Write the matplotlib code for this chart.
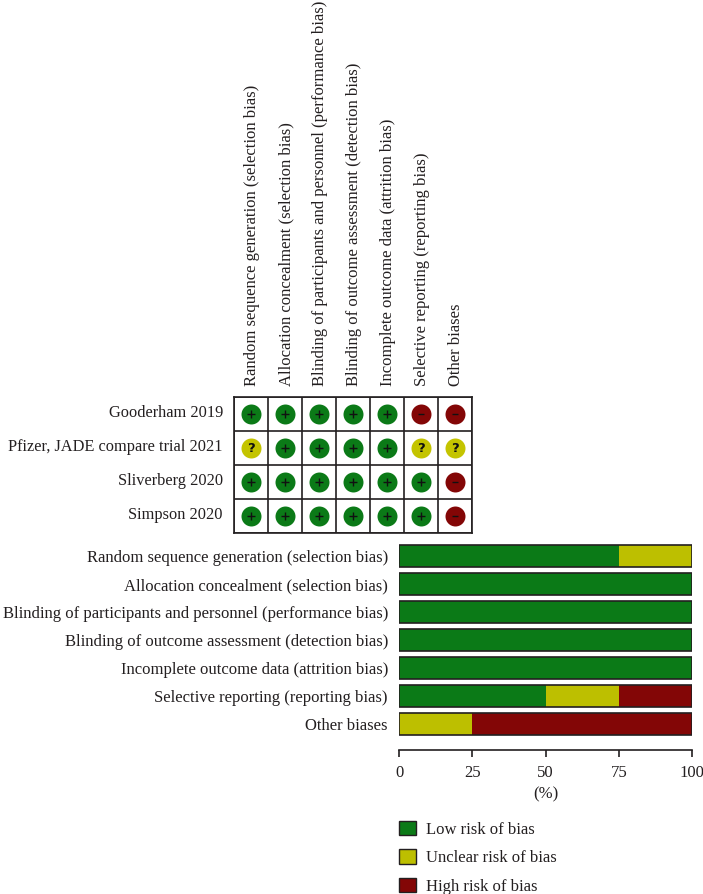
import matplotlib
matplotlib.use('Agg')
import matplotlib.pyplot as plt
from matplotlib.patches import Patch

plt.rcParams['font.family'] = ['Liberation Serif', 'DejaVu Serif']

W, H = 703, 894
FS = 12

# review domains
domains = ['Random sequence generation (selection bias)',
           'Allocation concealment (selection bias)',
           'Blinding of participants and personnel (performance bias)',
           'Blinding of outcome assessment (detection bias)',
           'Incomplete outcome data (attrition bias)',
           'Selective reporting (reporting bias)',
           'Other biases']
studies = ['Gooderham 2019', 'Pfizer, JADE compare trial 2021', 'Sliverberg 2020', 'Simpson 2020']

# one letter per domain for each study
gooderham = ['+', '+', '+', '+', '+', '-', '-']
pfizer = ['?', '+', '+', '+', '+', '?', '?']
sliverberg = ['+', '+', '+', '+', '+', '+', '-']
simpson = ['+', '+', '+', '+', '+', '+', '-']
judgements = [gooderham, pfizer, sliverberg, simpson]

# percentages per domain
low = [75, 100, 100, 100, 100, 50, 0]
unclear = [25, 0, 0, 0, 0, 25, 25]
high = [0, 0, 0, 0, 0, 25, 75]

green = '#0b7a17'
yellow = '#bdbf00'
red = '#830606'
dot_yellow = '#c4c400'
text_col = '#231f20'
colors = {'+': green, '?': dot_yellow, '-': red}


def px_axes(left, top, right, bottom):
    return fig.add_axes([left / W, 1 - bottom / H, (right - left) / W, (bottom - top) / H])


fig = plt.figure(figsize=(W / 100, H / 100), dpi=100)

# traffic light grid
ax = px_axes(233.5, 397, 471.5, 533)
ax.set_xlim(0, 7)
ax.set_ylim(4, 0)
for r, row in enumerate(judgements):
    for c, j in enumerate(row):
        ax.scatter(c + 0.5, r + 0.5, s=207, color=colors[j], linewidths=0, zorder=3)
        if j == '+':
            ax.scatter(c + 0.5, r + 0.5, s=34, marker='+', color='#111111', linewidths=1.0, zorder=4)
        elif j == '-':
            ax.scatter(c + 0.5, r + 0.5, s=22, marker='_', color='#111111', linewidths=1.0, zorder=4)
        else:
            ax.text(c + 0.5, r + 0.5, '?', ha='center', va='center', fontsize=9.5, color='#111111',
                    fontweight='bold', family='DejaVu Sans', zorder=4)
ax.set_xticks(range(8))
ax.set_yticks(range(5))
ax.grid(True, color=text_col, linewidth=1.2)
ax.set_axisbelow(True)
ax.tick_params(length=0, labelbottom=False, labelleft=False)
for s in ax.spines.values():
    s.set_linewidth(1.2)
    s.set_color(text_col)

# column and row labels
for c, d in enumerate(domains):
    ax.text(c + 0.55, -0.33, d, rotation=90, ha='center', va='bottom', fontsize=FS, color=text_col,
            clip_on=False)
for r, s in enumerate(studies):
    ax.text(-0.31, r + 0.48, s, ha='right', va='center', fontsize=11.8, color=text_col)

# stacked bars
ax2 = px_axes(399, 541, 692, 750)
y = list(range(len(domains)))
left3 = [a + b for a, b in zip(low, unclear)]
ax2.barh(y, low, height=0.786, color=green, linewidth=0)
ax2.barh(y, unclear, left=low, height=0.786, color=yellow, linewidth=0)
ax2.barh(y, high, left=left3, height=0.786, color=red, linewidth=0)
# outline of each bar
ax2.barh(y, [100] * 7, height=0.786, fill=False, edgecolor=text_col, linewidth=1.2)
ax2.set_xlim(0, 100)
ax2.set_ylim(6.93, -0.536)
ax2.set_yticks(y)
ax2.set_yticklabels(domains, fontsize=FS, color=text_col)
ax2.set_xticks([0, 25, 50, 75, 100])
ax2.tick_params(axis='y', length=0, pad=8)
ax2.tick_params(axis='x', length=5, width=1.2, color=text_col, labelsize=FS, labelcolor=text_col, pad=6)
for s in ['top', 'left', 'right']:
    ax2.spines[s].set_visible(False)
ax2.spines['bottom'].set_linewidth(1.2)
ax2.spines['bottom'].set_color(text_col)
ax2.set_xlabel('(%)', fontsize=FS, color=text_col, labelpad=4)

# legend
handles = [Patch(facecolor=green, edgecolor=text_col, linewidth=1),
           Patch(facecolor=yellow, edgecolor=text_col, linewidth=1),
           Patch(facecolor=red, edgecolor=text_col, linewidth=1)]
fig.legend(handles, ['Low risk of bias', 'Unclear risk of bias', 'High risk of bias'],
           loc='upper left', bbox_to_anchor=(399 / W, 1 - 821 / H), borderaxespad=0, borderpad=0,
           frameon=False, fontsize=FS, labelcolor=text_col, handlelength=1.02, handleheight=0.96,
           handletextpad=0.6, labelspacing=0.68)

fig.savefig('out.png', dpi=100)
